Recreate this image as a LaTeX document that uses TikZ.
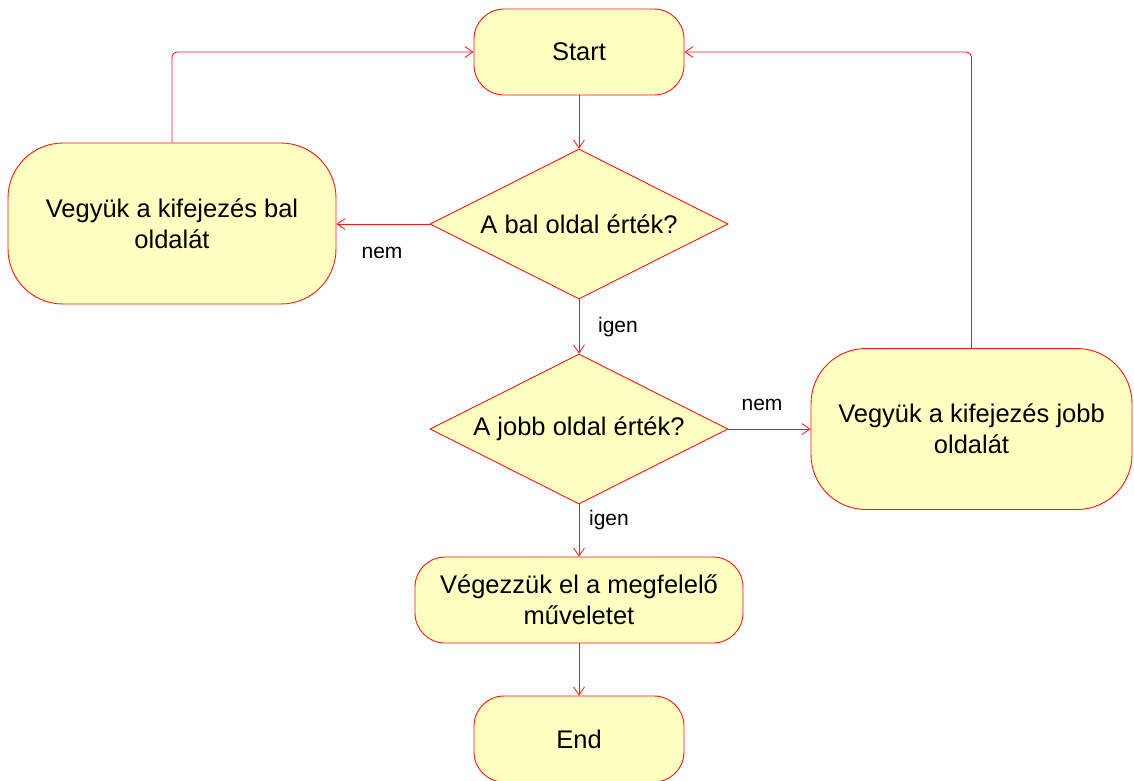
\documentclass[tikz,border=0pt]{standalone}
\usepackage{fontspec}
\setmainfont{Liberation Sans}
\usetikzlibrary{shapes.geometric,arrows.meta}
\definecolor{boxfill}{RGB}{255,255,194}
\definecolor{edge}{RGB}{255,20,20}
\begin{document}
\begin{tikzpicture}[x=1pt,y=-1pt,
  every node/.style={font=\fontsize{25.5}{31}\selectfont, align=center, inner sep=0pt},
  term/.style={draw=edge, fill=boxfill, line width=0.9pt, rectangle, rounded corners=30pt,
    minimum width=210pt, minimum height=86pt},
  action/.style={draw=edge, fill=boxfill, line width=0.9pt, rectangle, rounded corners=55pt,
    minimum height=161pt},
  wide/.style={draw=edge, fill=boxfill, line width=0.9pt, rectangle, rounded corners=30pt,
    minimum width=328pt, minimum height=86pt},
  decision/.style={draw=edge, fill=boxfill, line width=0.9pt, diamond, aspect=2,
    minimum width=298pt, minimum height=150pt},
  flow/.style={draw=edge, line width=0.9pt, -{Straight Barb[length=8pt,width=11pt,line width=0.8pt]}},
  lbl/.style={font=\fontsize{21}{24}\selectfont}
]
\useasboundingbox (0,0) rectangle (1134,780);

% nodes
\node[term] (start) at (579,52) {Start};
\node[decision] (d1) at (579,224) {A bal oldal érték?};
\node[action, minimum width=328pt] (left) at (172,223.5) {Vegyük a kifejezés bal\\oldalát};
\node[decision] (d2) at (579,429) {A jobb oldal érték?};
\node[action, minimum width=321pt] (right) at (971.5,429) {Vegyük a kifejezés jobb\\oldalát};
\node[wide] (op) at (579,600) {Végezzük el a megfelelő\\műveletet};
\node[term] (end) at (579,739) {End};

% labels
\node[lbl] (n1) at (382,253) {nem};
\node[lbl] (i1) at (618,327) {igen};
\node[lbl] (n2) at (762,405) {nem};
\node[lbl] (i2) at (609,520) {igen};

% connectors
\draw[flow] (start.south) -- (d1.north);
\draw[flow] (d1.west) -- (left.east |- d1.west);
\draw[flow] (d1.south) -- (d2.north);
\draw[flow] (d2.east) -- (right.west |- d2.east);
\draw[flow] (d2.south) -- (op.north);
\draw[flow] (op.south) -- (end.north);
\draw[flow, rounded corners=5pt] (left.north) |- (start.west);
\draw[flow, rounded corners=5pt] (right.north) |- (start.east);
\end{tikzpicture}
\end{document}
